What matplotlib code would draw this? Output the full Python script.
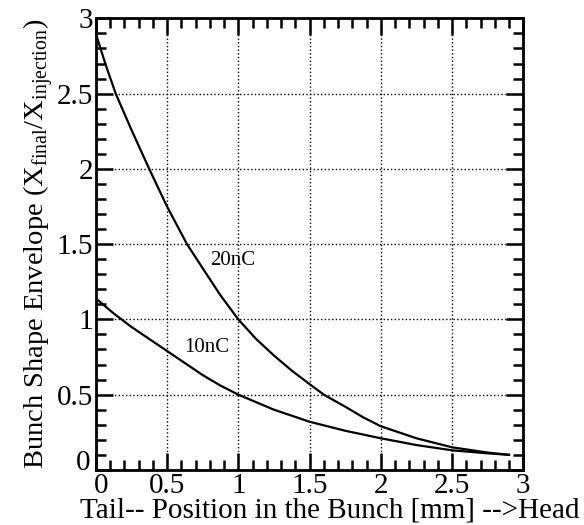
import numpy as np
import matplotlib
matplotlib.use('Agg')
import matplotlib.pyplot as plt
import matplotlib.transforms as mtransforms
from matplotlib.ticker import MultipleLocator

plt.rcParams['font.family'] = ['Liberation Serif', 'DejaVu Serif']
plt.rcParams['mathtext.fontset'] = 'custom'
plt.rcParams['mathtext.rm'] = 'Liberation Serif'

# curves
x_20nc = [0, 0.07, 0.14, 0.25, 0.375, 0.5, 0.64, 0.75, 0.875, 1.0, 1.125, 1.25, 1.375,
          1.5, 1.6, 1.75, 1.875, 2.0, 2.25, 2.5, 2.75, 2.9]
y_20nc = [2.9, 2.69, 2.5, 2.26, 2.0, 1.75, 1.5, 1.34, 1.16, 1.0, 0.87, 0.76, 0.66,
          0.57, 0.5, 0.42, 0.35, 0.29, 0.21, 0.15, 0.115, 0.1]
x_10nc = [0, 0.125, 0.25, 0.375, 0.5, 0.625, 0.75, 0.875, 1.0, 1.25, 1.5, 1.75,
          2.0, 2.25, 2.5, 2.75, 2.9]
y_10nc = [1.14, 1.04, 0.95, 0.87, 0.79, 0.71, 0.63, 0.56, 0.5, 0.4, 0.32, 0.26,
          0.21, 0.165, 0.13, 0.11, 0.1]
ticks = [0, 0.5, 1, 1.5, 2, 2.5, 3]
tick_labels = ['0', '0.5', '1', '1.5', '2', '2.5', '3']

fig = plt.figure(figsize=(5.84, 5.25), dpi=100)
ax = fig.add_axes([0.164, 0.105, 0.732, 0.86])

ax.plot(x_20nc, y_20nc, color='black', lw=1.6)
ax.plot(x_10nc, y_10nc, color='black', lw=1.6)
ax.text(0.96, 1.39, '20nC', fontsize=15, ha='center', va='center')
ax.text(0.78, 0.81, '10nC', fontsize=15, ha='center', va='center')

ax.set_xlim(0, 3)
ax.set_ylim(0, 3)
ax.set_xticks(ticks)
ax.set_xticklabels(tick_labels)
ax.set_yticks(ticks)
ax.set_yticklabels(tick_labels)
ax.xaxis.set_minor_locator(MultipleLocator(0.1))
ax.yaxis.set_minor_locator(MultipleLocator(0.1))

ax.tick_params(which='both', direction='in', top=True, right=True, width=1.8,
               labelsize=21, pad=2)
ax.tick_params(which='major', length=12)
ax.tick_params(which='minor', length=7)
for s in ax.spines.values():
    s.set_linewidth(2)

ax.grid(True, which='major', linestyle=':', color='black', lw=1)

# the two zeros at the corner sit apart, like in the scan
fig.canvas.draw()
yzero = ax.get_yticklabels()[0]
yzero.set_transform(yzero.get_transform() +
                    mtransforms.ScaledTranslation(-2 / 72, 7 / 72, fig.dpi_scale_trans))
xzero = ax.get_xticklabels()[0]
xzero.set_transform(xzero.get_transform() +
                    mtransforms.ScaledTranslation(4 / 72, 0, fig.dpi_scale_trans))

ax.set_xlabel('Tail-- Position in the Bunch [mm] -->Head', fontsize=21)
ax.xaxis.set_label_coords(0.548, -0.062)
ax.set_ylabel('Bunch Shape Envelope (X$_\\mathregular{final}$/X$_\\mathregular{injection}$)',
              fontsize=20.5, labelpad=0)

fig.savefig('out.png', dpi=100)
